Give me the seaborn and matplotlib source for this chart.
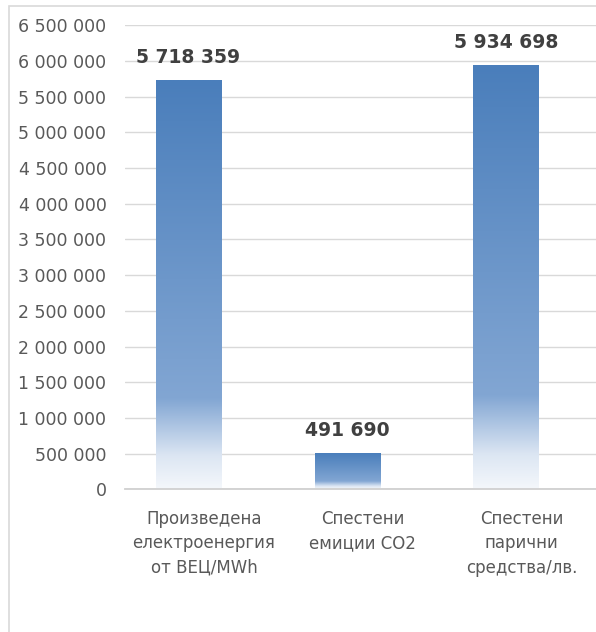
import numpy as np
import pandas as pd
import matplotlib
matplotlib.use("Agg")
import matplotlib.pyplot as plt
import matplotlib.transforms as mtransforms
from matplotlib.colors import LinearSegmentedColormap
from matplotlib.patches import Rectangle
import seaborn as sns

categories = ["Произведена\nелектроенергия\nот ВЕЦ/MWh",
              "Спестени\nемиции СО2",
              "Спестени\nпарични\nсредства/лв."]
values = [5718359, 491690, 5934698]
y_ticks = list(range(0, 6500001, 500000))

sns.set_theme(style="white")
plt.rcParams['font.family'] = ['DejaVu Sans']

df = pd.DataFrame({"cat": categories, "val": values})

fig = plt.figure(figsize=(5.96, 6.32), dpi=100)
W, H = 596, 632
ax = fig.add_axes([124.5 / W, 1 - 489.3 / H, (W - 124.5) / W, (489.3 - 25.3) / H])

sns.barplot(data=df, x="cat", y="val", ax=ax, width=0.41, color="#4A7EBB",
            errorbar=None, zorder=2)

ax.set_yticks(y_ticks)
ax.set_yticklabels([f"{v:,}".replace(",", " ") for v in y_ticks])
ax.set_xlabel("")
ax.set_ylabel("")

# gradient fill for bars
cmap = LinearSegmentedColormap.from_list(
    "grad", [(0.0, "#F4F7FB"), (0.08, "#DCE6F3"), (0.22, "#82A6D3"), (1.0, "#4A7EBB")])
grad = np.linspace(0, 1, 256).reshape(-1, 1)
for p in ax.patches:
    x0, w, h = p.get_x(), p.get_width(), p.get_height()
    p.set_facecolor("none")
    p.set_edgecolor("none")
    ax.imshow(grad, cmap=cmap, origin="lower", aspect="auto",
              extent=[x0, x0 + w, 0, h], zorder=2, interpolation="bilinear")

ax.set_xlim(-0.403, 2.567)
ax.set_ylim(0, 6500000)

for c in ax.containers:
    ax.bar_label(c, labels=[f"{v:,}".replace(",", " ") for v in values],
                 padding=10, fontsize=13.5, fontweight="bold", color="#404040")

ax.grid(axis="y", color="#D9D9D9", linewidth=1.0, zorder=0)
ax.set_axisbelow(True)
for s in ["left", "right", "top"]:
    ax.spines[s].set_visible(False)
ax.spines["bottom"].set_color("#D0D0D0")
ax.spines["bottom"].set_linewidth(1.3)

ax.tick_params(axis="y", length=0, pad=13, labelsize=12.5, labelcolor="#595959")
ax.tick_params(axis="x", length=0, pad=15, labelsize=12, labelcolor="#595959")
shift = mtransforms.ScaledTranslation(15.5 / 100, 0, fig.dpi_scale_trans)
for lab in ax.get_xticklabels():
    lab.set_transform(lab.get_transform() + shift)
    lab.set_linespacing(1.45)
    lab.set_verticalalignment("top")

fig.patches.append(Rectangle((9 / W, -0.1), 1.2, 1 - 6 / H + 0.1,
                             transform=fig.transFigure, fill=False,
                             edgecolor="#D9D9D9", linewidth=1.2))

fig.savefig("out.png", dpi=100)
